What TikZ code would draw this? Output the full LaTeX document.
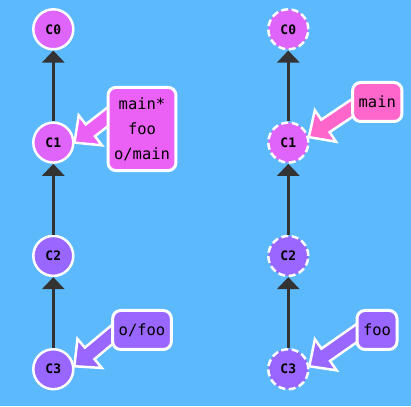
\documentclass[tikz,border=0pt]{standalone}
\usepackage{fontspec}
\setmonofont{DejaVu Sans Mono}
\usepackage{tikz}
\usetikzlibrary{arrows.meta, calc}

\definecolor{bgblue}{RGB}{92,186,252}
\definecolor{magentac}{RGB}{223,100,249}
\definecolor{magentab}{RGB}{235,97,245}
\definecolor{pinkb}{RGB}{255,102,204}
\definecolor{purplec}{RGB}{153,102,255}
\definecolor{edgegray}{RGB}{51,51,51}

\pgfdeclarelayer{bg}
\pgfdeclarelayer{tags}
\pgfsetlayers{bg,tags,main}

% fat arrow from a branch label to its commit
\newcommand\tagarrow[3]{%
  \path[draw=white, line width=2.5pt, fill=#1, line join=miter]
    let \p1=($(#2)-(#3)$), \n1={atan2(\y1,\x1)}, \n2={veclen(\x1,\y1)} in
    (#3) -- ($(#3)+(\n1:20)+(\n1+90:19)$) -- ($(#3)+(\n1:20)+(\n1+90:7.5)$)
    -- ($(#3)+(\n1:\n2)+(\n1+90:7.5)$) -- ($(#3)+(\n1:\n2)+(\n1-90:7.5)$)
    -- ($(#3)+(\n1:20)+(\n1-90:7.5)$) -- ($(#3)+(\n1:20)+(\n1-90:19)$) -- cycle;}

\begin{document}
\begin{tikzpicture}[
    x=1pt, y=1pt,
    commit/.style={circle, draw=white, line width=2.5pt, minimum size=40pt, inner sep=0pt,
        font=\fontsize{13}{15}\selectfont\ttfamily\bfseries},
    ghost/.style={commit, dash pattern=on 7pt off 3.5pt},
    branch/.style={draw=white, line width=3pt, rounded corners=8pt, inner xsep=6pt,
        minimum height=39pt, align=center, font=\fontsize{15.5}{25}\selectfont\ttfamily},
    edge/.style={draw=edgegray, line width=3pt, -{Triangle[width=22pt, length=12pt]}},
]

\begin{pgfonlayer}{bg}
\fill[bgblue] (0,0) rectangle (411,406);
\end{pgfonlayer}

% Left: before
\node[commit, fill=magentac] (C0L) at (53.3, 376.7) {C0};
\node[commit, fill=magentac] (C1L) at (53.3, 263.4) {C1};
\node[commit, fill=purplec] (C2L) at (53.3, 150.1) {C2};
\node[commit, fill=purplec] (C3L) at (53.3, 36.8) {C3};

\node[branch, fill=magentab, inner ysep=10pt] (mainL) at (142, 277) {main*\\foo\\o/main};
\node[branch, fill=purplec] (ofoo) at (142, 76) {o/foo};

% Right: after
\node[ghost, fill=magentac] (C0R) at (288.3, 376.7) {C0};
\node[ghost, fill=magentac] (C1R) at (288.3, 263.4) {C1};
\node[ghost, fill=purplec] (C2R) at (288.3, 150.1) {C2};
\node[ghost, fill=purplec] (C3R) at (288.3, 36.8) {C3};

\node[branch, fill=pinkb] (mainR) at (377.3, 304) {main};
\node[branch, fill=purplec] (fooR) at (377, 76) {foo};

% parent edges
\draw[edge] (C1L) -- (C0L);
\draw[edge] (C2L) -- (C1L);
\draw[edge] (C3L) -- (C2L);
\draw[edge] (C1R) -- (C0R);
\draw[edge] (C2R) -- (C1R);
\draw[edge] (C3R) -- (C2R);

% branch pointers
\coordinate (mainLfoot) at ([shift={(10,19)}]mainL.west);
\coordinate (ofoofoot) at ([shift={(10,3)}]ofoo.west);
\coordinate (mainRfoot) at ([shift={(10,0)}]mainR.west);
\coordinate (fooRfoot) at ([shift={(10,3)}]fooR.west);
\begin{pgfonlayer}{tags}
\tagarrow{magentab}{mainLfoot}{C1L.east}
\tagarrow{purplec}{ofoofoot}{C3L.8}
\tagarrow{pinkb}{mainRfoot}{C1R.15}
\tagarrow{purplec}{fooRfoot}{C3R.8}
\end{pgfonlayer}

\end{tikzpicture}
\end{document}
